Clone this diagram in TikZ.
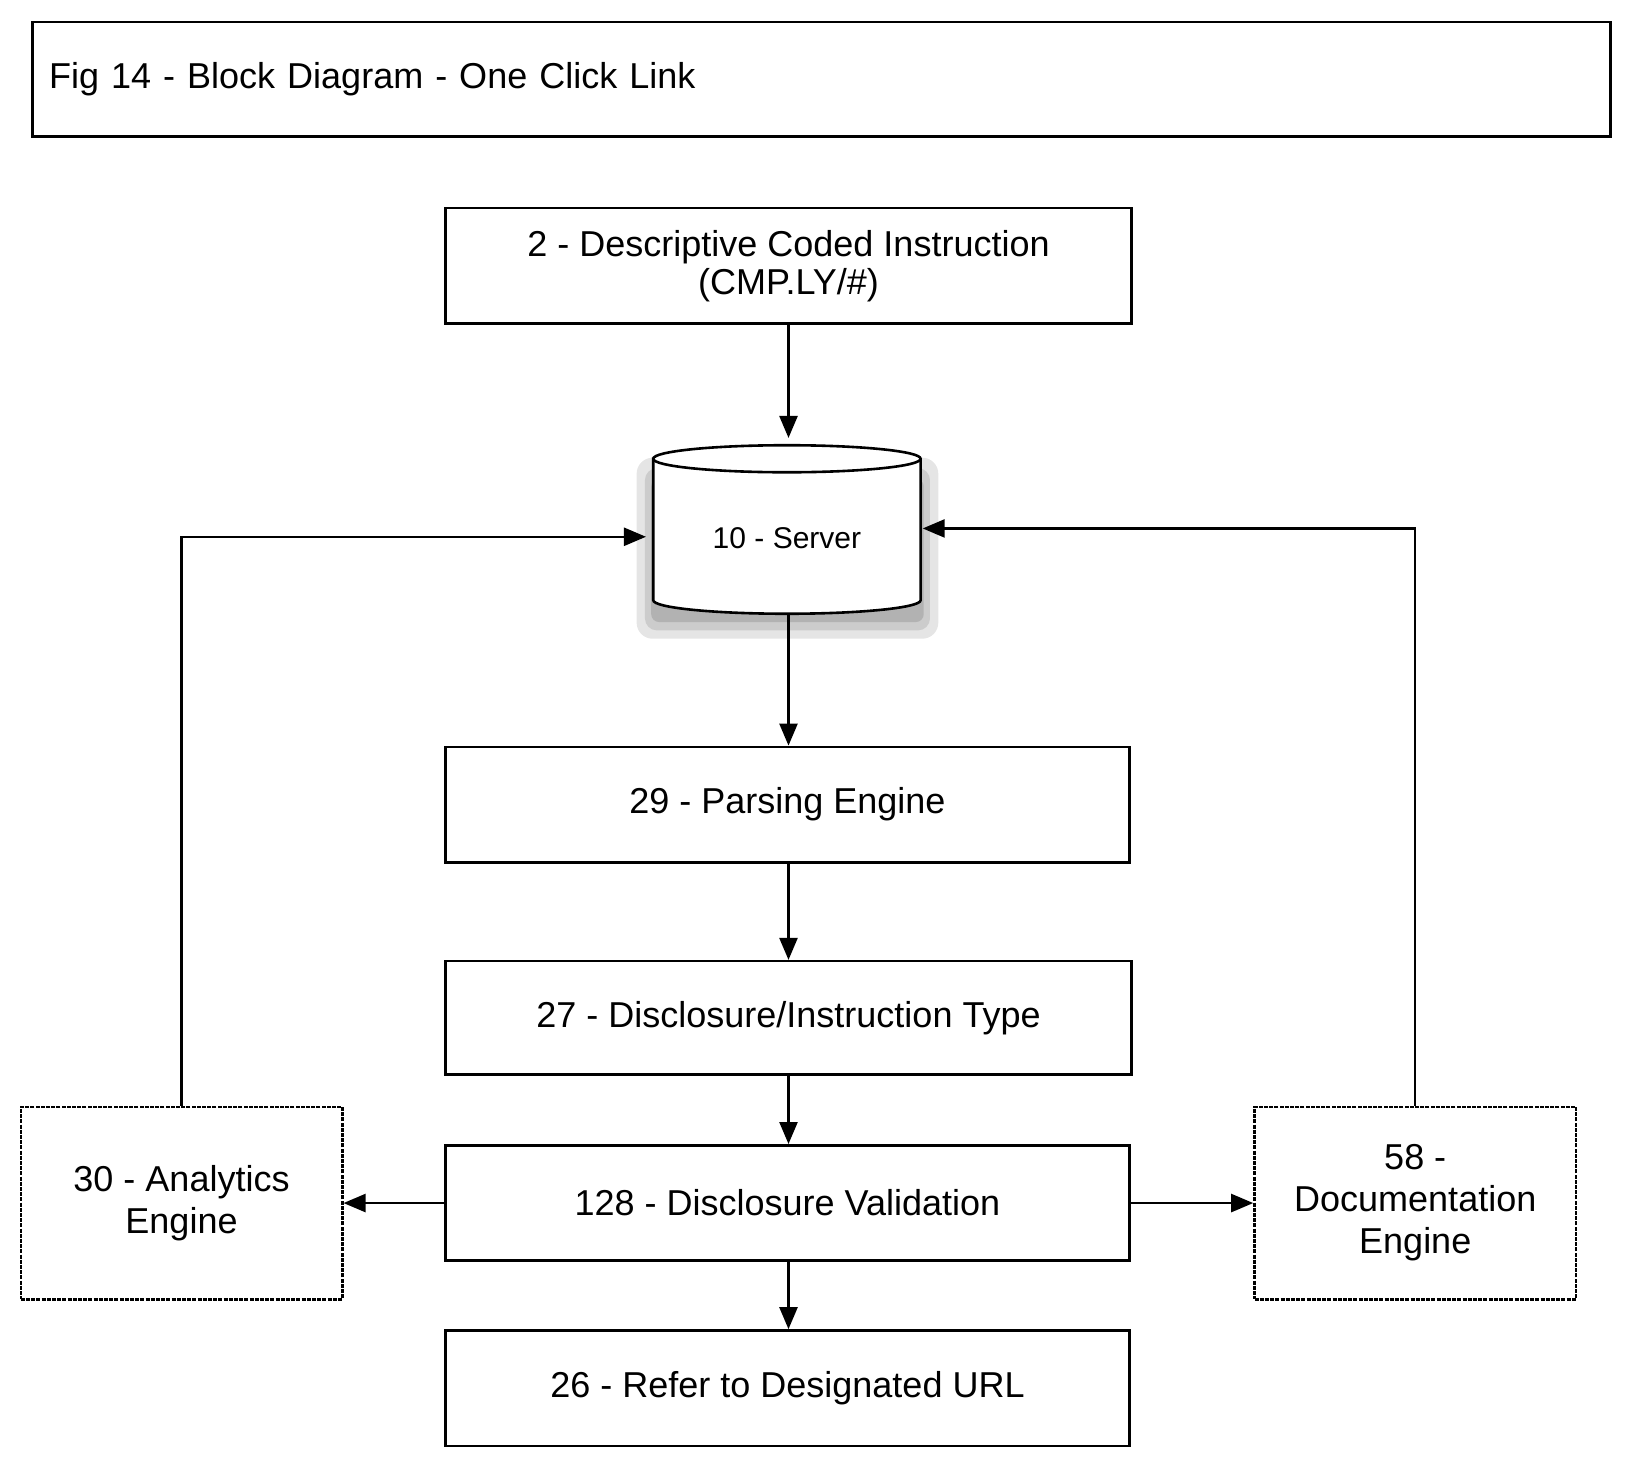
\documentclass[tikz,border=0pt]{standalone}
\usepackage{fontspec}
\setmainfont{Liberation Sans}
\usetikzlibrary{arrows.meta,shapes.geometric}
\begin{document}
\begin{tikzpicture}[x=0.52pt,y=-0.52pt,
  box/.style={draw,line width=1.3pt,inner sep=0pt,font=\fontsize{18}{21}\selectfont,align=center},
  dbox/.style={box,dash pattern=on 2pt off 0.6pt},
  arr/.style={line width=1.2pt,-{Triangle[length=11pt,width=9pt]}},
  ln/.style={line width=1.2pt}]
\useasboundingbox (0,0) rectangle (1566,1410);
\node[box,minimum width=1517*0.52pt,minimum height=110*0.52pt,anchor=north west,text width=1485*0.52pt,align=left] (title) at (30,20) {Fig 14 - Block Diagram - One Click Link};
\node[box,minimum width=660*0.52pt,minimum height=111*0.52pt] (b2) at (758,255.5) {2 - Descriptive Coded Instruction\\[-2pt](CMP.LY/\#)};
% server cylinder with soft shadow
\fill[gray!20,rounded corners=8pt] (612,440) rectangle (902,614);
\fill[gray!40,rounded corners=6pt] (620,450) rectangle (894,606);
\fill[gray!60,rounded corners=4pt] (626,460) rectangle (888,598);
\draw[line width=1.3pt,fill=white] (628,441) -- (628,577) arc[start angle=180,end angle=0,x radius=128.5,y radius=13] -- (885,441) arc[start angle=0,end angle=-180,x radius=128.5,y radius=13] -- cycle;
\draw[line width=1.3pt] (628,441) arc[start angle=180,end angle=0,x radius=128.5,y radius=13];
\node[inner sep=0pt,font=\fontsize{15}{18}\selectfont] (srv) at (756.5,517) {10 - Server};
\coordinate (srvT) at (758,421);
\coordinate (srvB) at (758,591);
\coordinate (srvL) at (621,516);
\coordinate (srvR) at (887,508);
\node[box,minimum width=658*0.52pt,minimum height=111*0.52pt] (b29) at (757,773.5) {29 - Parsing Engine};
\node[box,minimum width=660*0.52pt,minimum height=109*0.52pt] (b27) at (758,978.5) {27 - Disclosure/Instruction Type};
\node[box,minimum width=658*0.52pt,minimum height=111*0.52pt] (b128) at (757,1156.5) {128 - Disclosure Validation};
\node[box,minimum width=658*0.52pt,minimum height=111*0.52pt] (b26) at (757,1334.5) {26 - Refer to Designated URL};
\node[dbox,minimum width=309*0.52pt,minimum height=185*0.52pt] (b30) at (174.5,1156.5) {30 - Analytics\\[0pt]Engine};
\node[dbox,minimum width=309*0.52pt,minimum height=185*0.52pt] (b58) at (1360.5,1156.5) {58 -\\[0pt]Documentation\\[0pt]Engine};
\draw[arr] (b2.south -| srvT) -- (srvT);
\draw[arr] (srvB) -- (b29.north -| srvB);
\draw[arr] (b29.south -| srvB) -- (b27.north -| srvB);
\draw[arr] (b27.south -| srvB) -- (b128.north -| srvB);
\draw[arr] (b128.south -| srvB) -- (b26.north -| srvB);
\draw[arr] (b128.west) -- (b30.east);
\draw[arr] (b128.east) -- (b58.west);
\draw[arr] (b30.north) |- (srvL);
\draw[arr] (b58.north) |- (srvR);
\end{tikzpicture}
\end{document}
